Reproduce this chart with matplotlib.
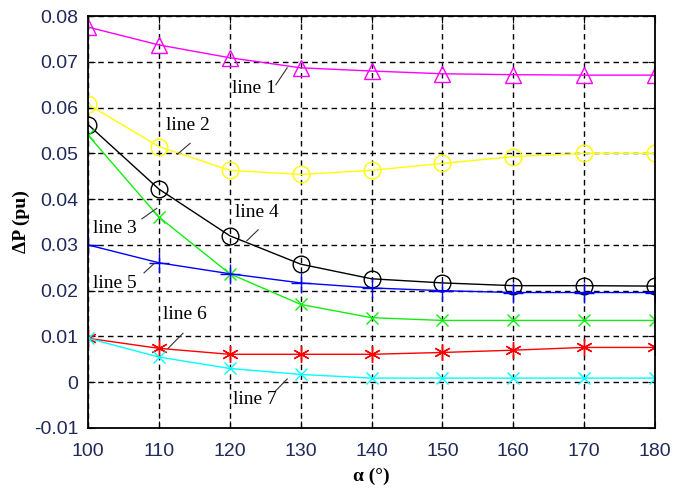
import matplotlib
matplotlib.use("Agg")
import matplotlib.pyplot as plt

# Firing angle (degrees)
alpha = [100, 110, 120, 130, 140, 150, 160, 170, 180]

# Power loss for each case (pu)
line1 = [0.0776, 0.0737, 0.0709, 0.0687, 0.0680, 0.0674, 0.0672, 0.0671, 0.0671]
line2 = [0.0607, 0.0515, 0.0463, 0.0454, 0.0463, 0.0478, 0.0493, 0.0500, 0.0500]
line3 = [0.0540, 0.0361, 0.0237, 0.0170, 0.0141, 0.0135, 0.0135, 0.0135, 0.0135]
line4 = [0.0563, 0.0422, 0.0320, 0.0258, 0.0226, 0.0217, 0.0211, 0.0211, 0.0210]
line5 = [0.0300, 0.0261, 0.0237, 0.0217, 0.0206, 0.0200, 0.0196, 0.0196, 0.0196]
line6 = [0.0096, 0.0074, 0.0061, 0.0061, 0.0061, 0.0065, 0.0070, 0.0076, 0.0076]
line7 = [0.0096, 0.0055, 0.0030, 0.0017, 0.0009, 0.0009, 0.0009, 0.0009, 0.0009]

x_ticks = [100, 110, 120, 130, 140, 150, 160, 170, 180]
y_ticks = [-0.01, 0, 0.01, 0.02, 0.03, 0.04, 0.05, 0.06, 0.07, 0.08]
y_tick_labels = ["-0.01", "0", "0.01", "0.02", "0.03", "0.04", "0.05", "0.06", "0.07", "0.08"]

# Label text, text anchor, leader start, leader end
labels = [
    ("line 1", (120.3, 0.0641), (126.5, 0.0650), (128.1, 0.0687)),
    ("line 2", (111.0, 0.0561), (112.6, 0.0498), (114.4, 0.0522)),
    ("line 3", (100.7, 0.0335), (107.6, 0.0357), (109.7, 0.0380)),
    ("line 4", (120.7, 0.0370), (122.4, 0.0309), (124.0, 0.0333)),
    ("line 5", (100.7, 0.0215), (107.9, 0.0239), (109.3, 0.0259)),
    ("line 6", (110.6, 0.0148), (111.3, 0.0074), (113.4, 0.0107)),
    ("line 7", (120.5, -0.0037), (126.4, -0.0020), (128.1, 0.0007)),
]

fig = plt.figure(figsize=(6.73, 4.88), dpi=100)
ax = fig.add_axes([0.1308, 0.123, 0.8425, 0.844])

mk = dict(markersize=12, markerfacecolor="none", markeredgewidth=1.0, linewidth=1.0)
ax.plot(alpha, line1, color="#ff00ff", marker="^", **mk)
ax.plot(alpha, line2, color="#ffff00", marker="o", **mk)
ax.plot(alpha, line4, color="#000000", marker="o", **mk)
ax.plot(alpha, line3, color="#11ee11", marker="x", markersize=8, markeredgewidth=1.0, linewidth=1.0)
ax.plot(alpha, line5, color="#0000ff", marker="+", markersize=14, markeredgewidth=1.0, linewidth=1.0)
ax.plot(alpha, line6, color="#ff0000", marker=(6, 2, 0), markersize=12, markeredgewidth=1.0, linewidth=1.0)
ax.plot(alpha, line7, color="#00ffff", marker="x", markersize=8, markeredgewidth=1.0, linewidth=1.0)

for text, pos, p0, p1 in labels:
    ax.text(pos[0], pos[1], text, fontsize=14, family="Liberation Serif",
            ha="left", va="center", color="black")
    ax.plot([p0[0], p1[0]], [p0[1], p1[1]], color="#333333", linewidth=0.8)

ax.set_xlim(100, 180)
ax.set_ylim(-0.01, 0.08)
ax.set_xticks(x_ticks)
ax.set_yticks(y_ticks)
ax.set_yticklabels(y_tick_labels)
tick_color = "#1f2a5a"
ax.tick_params(direction="in", length=5, width=0.8, labelsize=14,
               labelcolor=tick_color, top=True, right=True)
ax.tick_params(axis="x", pad=11)
ax.tick_params(axis="y", pad=7)
for lab in ax.get_xticklabels() + ax.get_yticklabels():
    lab.set_family("Liberation Sans")

ax.grid(True, color="black", linestyle=(0, (4, 3)), linewidth=1.0)
ax.set_axisbelow(True)
for s in ax.spines.values():
    s.set_linewidth(1.3)
    s.set_color("black")

ax.set_xlabel("α (°)", fontsize=14, fontweight="bold", family="Liberation Serif", labelpad=5)
ax.set_ylabel("ΔP (pu)", fontsize=14, fontweight="bold", family="Liberation Serif", labelpad=3)

fig.savefig("out.png", dpi=100)
